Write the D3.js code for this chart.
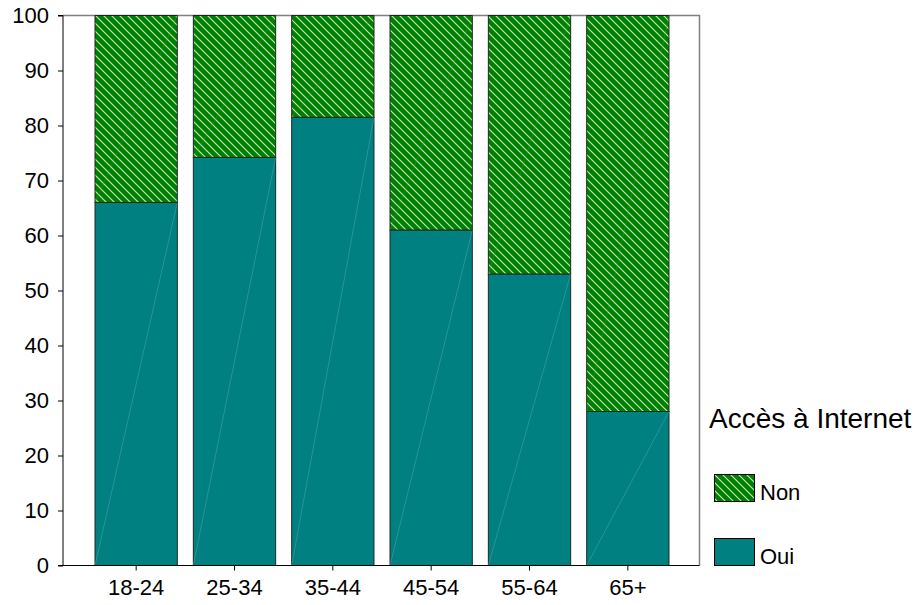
<!DOCTYPE html>
<html><head><meta charset="utf-8">
<script src="https://cdn.jsdelivr.net/npm/d3@7"></script>
<style>body{margin:0;background:#fff}text{font-family:"Liberation Sans",Arial,sans-serif}</style>
</head><body>
<svg id="c" width="921" height="605"></svg>
<script>
const categories = ["18-24","25-34","35-44","45-54","55-64","65+"];
const oui = [66, 74.2, 81.5, 61, 53, 28];
const non = [34, 25.8, 18.5, 39, 47, 72];
const yTicks = [0,10,20,30,40,50,60,70,80,90,100];
const legendTitle = "Accès à Internet";
const seriesNames = ["Non","Oui"];

const svg = d3.select("#c");
const defs = svg.append("defs");
const pat = defs.append("pattern").attr("id","hatch").attr("patternUnits","userSpaceOnUse")
  .attr("width",8).attr("height",8);
pat.append("rect").attr("width",8).attr("height",8).attr("fill","#008000");
pat.append("path").attr("d","M-2,-2 L10,10 M-2,6 L2,10 M6,-2 L10,2")
  .attr("stroke","#c8e8c0").attr("stroke-width",1.1);

const x = d3.scaleBand().domain(categories).range([87,677]).paddingInner(0.163).paddingOuter(0.0815);
const y = d3.scaleLinear().domain([0,100]).range([565.5,15.5]);

// frame
svg.append("path").attr("d",`M63,15.5 H699.5 V565.5`).attr("fill","none").attr("stroke","#808080").attr("stroke-width",1.5);

const g = svg.append("g");
categories.forEach((c,i)=>{
  const bx = x(c), bw = x.bandwidth();
  g.append("rect").attr("x",bx).attr("y",y(oui[i])).attr("width",bw).attr("height",y(0)-y(oui[i]))
    .attr("fill","#008080").attr("stroke","#1a2a2a").attr("stroke-width",1);
  g.append("line").attr("x1",bx).attr("y1",y(0)).attr("x2",bx+bw).attr("y2",y(oui[i]))
    .attr("stroke","#5fb0b0").attr("stroke-width",0.6).attr("opacity",0.7);
  g.append("rect").attr("x",bx).attr("y",y(oui[i]+non[i])).attr("width",bw).attr("height",y(oui[i])-y(oui[i]+non[i]))
    .attr("fill","url(#hatch)").attr("stroke","#1a2a1a").attr("stroke-width",1);
  g.append("line").attr("x1",bx).attr("y1",y(oui[i])).attr("x2",bx+bw).attr("y2",y(100))
    .attr("stroke","#40a040").attr("stroke-width",0.6).attr("opacity",0.6);
});

const yAxis = d3.axisLeft(y).tickValues(yTicks).tickSize(5).tickPadding(9);
const ya = svg.append("g").attr("transform","translate(63,0)").call(yAxis);
ya.attr("font-size",22).attr("font-family","Liberation Sans, Arial, sans-serif");
ya.select(".domain").attr("stroke","#000").attr("d","M-5,565.5 H0 V15.5 H-5");
ya.selectAll("text").attr("fill","#000");
ya.selectAll("line").attr("stroke","#000");

const xAxis = d3.axisBottom(x).tickSize(5).tickPadding(9).tickSizeOuter(0);
const xa = svg.append("g").attr("transform","translate(0,565.5)").call(xAxis);
xa.attr("font-size",22).attr("font-family","Liberation Sans, Arial, sans-serif");
xa.select(".domain").attr("stroke","#000").attr("d","M58,0 H699.5");
xa.selectAll("text").attr("fill","#000");
xa.selectAll("line").attr("stroke","#000");

svg.append("text").attr("x",709).attr("y",428).attr("font-size",28).attr("fill","#000").text(legendTitle);
const leg = [{name:seriesNames[0],fill:"url(#hatch)",y:474},{name:seriesNames[1],fill:"#008080",y:538}];
leg.forEach(d=>{
  svg.append("rect").attr("x",714.5).attr("y",d.y+0.5).attr("width",40).attr("height",27)
    .attr("fill",d.fill).attr("stroke","#000").attr("stroke-width",1);
  svg.append("text").attr("x",760).attr("y",d.y+26).attr("font-size",22).attr("fill","#000").text(d.name);
});
</script>
</body></html>
